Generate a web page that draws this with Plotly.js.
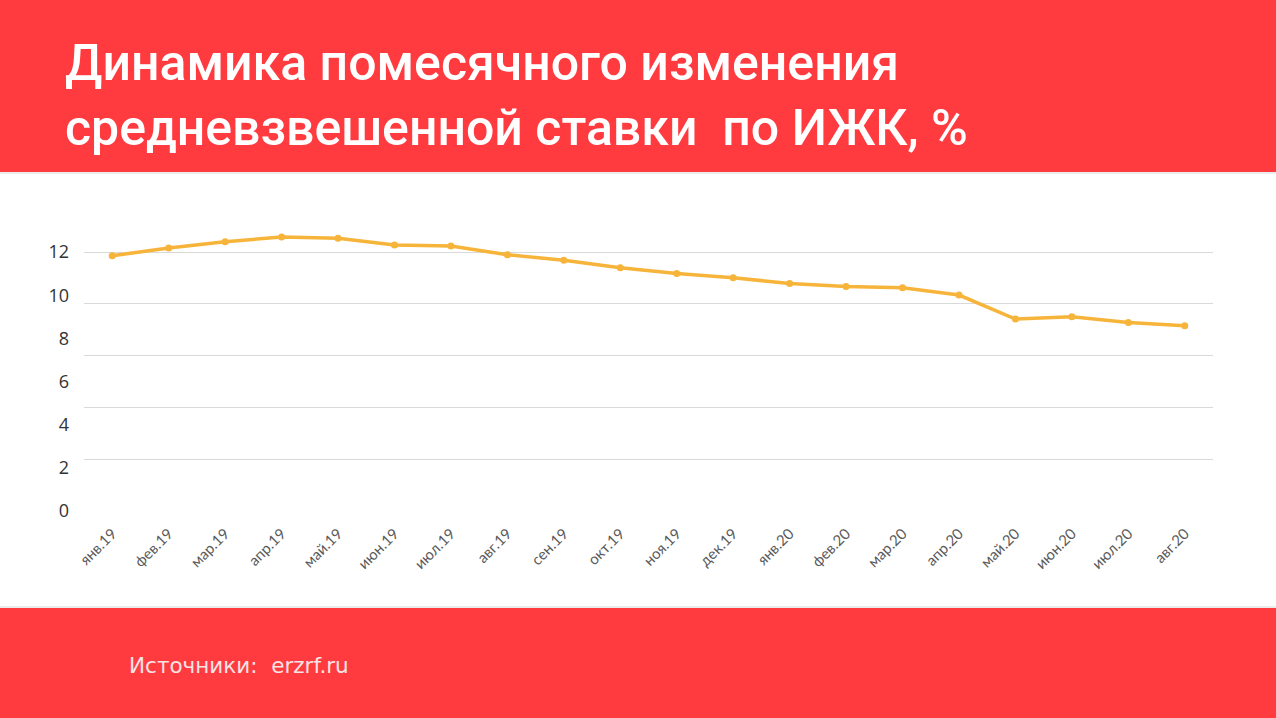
<!DOCTYPE html>
<html>
<head>
<meta charset="utf-8">
<script src="https://cdn.plot.ly/plotly-3.0.1.min.js"></script>
<style>
  html, body { margin: 0; padding: 0; background: #ffffff; }
  #chart { width: 1276px; height: 718px; }
</style>
</head>
<body>
<div id="chart"></div>
<script>
// Month labels (categories)
const months = ['янв.19','фев.19','мар.19','апр.19','май.19','июн.19','июл.19','авг.19','сен.19','окт.19','ноя.19','дек.19',
                'янв.20','фев.20','мар.20','апр.20','май.20','июн.20','июл.20','авг.20'];
// Weighted average rate values, %
const rates = [11.83, 12.19, 12.48, 12.70, 12.64, 12.33, 12.28, 11.88, 11.62, 11.28, 11.01, 10.81,
               10.55, 10.41, 10.35, 10.01, 8.90, 9.00, 8.74, 8.59];
// Y tick labels
const yTicks = [0, 2, 4, 6, 8, 10, 12];
// Gridlines in the original are drawn at a different spacing than the labels
const gridTicks = [0, 2, 4, 6, 8, 10];

const titleText = 'Динамика помесячного изменения<br>средневзвешенной ставки&nbsp; по ИЖК, %';
const sourceText = 'Источники:&nbsp; erzrf.ru';

const RED = '#FF3B40';
const LINE = '#F7B43A';

const yMax = 14;
const gridMax = yMax * 10 / 12;

const trace = {
  x: months.slice(0, rates.length),
  y: rates,
  type: 'scatter',
  mode: 'lines+markers',
  line: { color: LINE, width: 3.5 },
  marker: { color: LINE, size: 7 },
  cliponaxis: false,
  hoverinfo: 'x+y',
  yaxis: 'y'
};

const gridTrace = {
  x: [months[0]], y: [0], type: 'scatter', mode: 'markers',
  marker: { opacity: 0 }, yaxis: 'y2', hoverinfo: 'skip', showlegend: false
};

const layout = {
  width: 1276,
  height: 718,
  margin: { l: 84, r: 63, t: 209, b: 207 },
  paper_bgcolor: '#ffffff',
  plot_bgcolor: 'rgba(0,0,0,0)',
  showlegend: false,
  title: {
    text: titleText,
    font: { family: 'Roboto, "Open Sans", sans-serif', size: 50, color: '#ffffff', weight: 500 },
    x: 65 / 1276,
    xanchor: 'left',
    xref: 'container',
    y: 1 - 80 / 718,
    yanchor: 'top',
    yref: 'container'
  },
  xaxis: {
    type: 'category',
    categoryarray: months,
    range: [-0.5, months.length - 0.5],
    showgrid: false,
    zeroline: false,
    showline: false,
    ticks: '',
    tickangle: -45,
    ticklabelstandoff: 10,
    tickfont: { family: 'Lato, "Open Sans", sans-serif', size: 15, color: '#5a5a5a' }
  },
  yaxis: {
    range: [0, yMax],
    tickvals: yTicks,
    ticktext: yTicks.map(String),
    showgrid: false,
    zeroline: false,
    showline: false,
    ticks: '',
    ticklabelstandoff: 14,
    tickfont: { family: '"Open Sans", Lato, sans-serif', size: 18, color: '#333333' },
    fixedrange: true
  },
  yaxis2: {
    overlaying: 'y',
    side: 'left',
    range: [0, gridMax],
    tickvals: gridTicks,
    showgrid: true,
    gridcolor: '#D9D9D9',
    gridwidth: 1,
    showticklabels: false,
    zeroline: false,
    showline: false,
    ticks: ''
  },
  shapes: [
    { type: 'rect', xref: 'paper', yref: 'paper', x0: -1, x1: 2, y0: (511 - 172) / 302, y1: 2.2,
      fillcolor: RED, line: { width: 0 }, layer: 'below' },
    { type: 'rect', xref: 'paper', yref: 'paper', x0: -1, x1: 2, y0: -1.2, y1: (511 - 608) / 302,
      fillcolor: RED, line: { width: 0 }, layer: 'below' },
    { type: 'line', xref: 'paper', yref: 'paper', x0: -1, x1: 2, y0: (511 - 173) / 302, y1: (511 - 173) / 302,
      line: { color: 'rgba(0,0,0,0.08)', width: 2 }, layer: 'below' },
    { type: 'line', xref: 'paper', yref: 'paper', x0: -1, x1: 2, y0: (511 - 607) / 302, y1: (511 - 607) / 302,
      line: { color: 'rgba(0,0,0,0.08)', width: 2 }, layer: 'below' }
  ],
  annotations: [
    {
      text: sourceText,
      xref: 'paper', yref: 'paper',
      x: (127 - 84) / 1129, y: (511 - 665) / 302,
      xanchor: 'left', yanchor: 'middle',
      showarrow: false,
      font: { family: '"DejaVu Sans", "Open Sans", sans-serif', size: 21.5, color: '#F7E4E4' }
    }
  ]
};

layout.xaxis.range = [-0.5, rates.length - 0.5];

Plotly.newPlot('chart', [gridTrace, trace], layout, { displayModeBar: false, staticPlot: true });
</script>
</body>
</html>
